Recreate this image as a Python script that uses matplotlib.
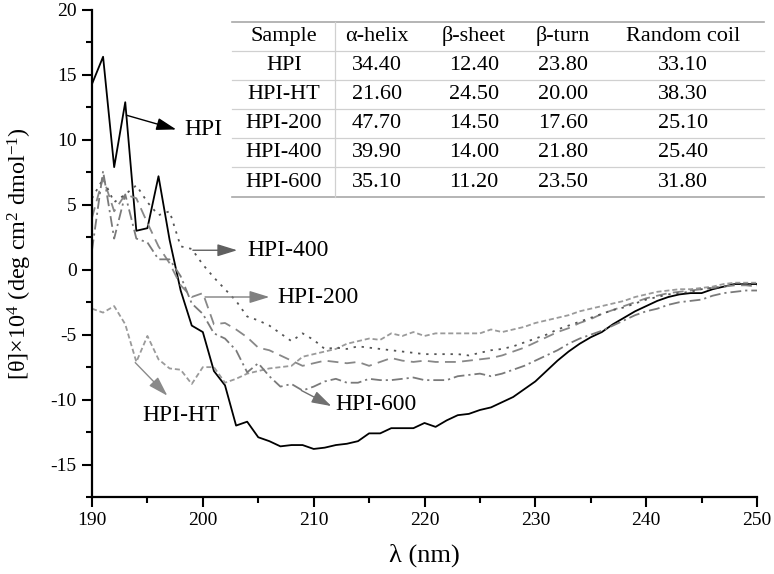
import numpy as np
import matplotlib
matplotlib.use("Agg")
import matplotlib.pyplot as plt
from matplotlib.lines import Line2D

plt.rcParams['font.family'] = ['Liberation Serif', 'DejaVu Serif']
plt.rcParams['mathtext.fontset'] = 'custom'
plt.rcParams['mathtext.rm'] = 'Liberation Serif'
plt.rcParams['mathtext.it'] = 'Liberation Serif:italic'
plt.rcParams['mathtext.default'] = 'regular'
plt.rcParams['axes.unicode_minus'] = False

# wavelength, 1 nm steps
wavelength = np.arange(190, 251)

hpi = [14.3, 16.4, 7.9, 12.9, 3.0, 3.2, 7.2, 2.3, -1.6, -4.3,
       -4.8, -7.8, -8.9, -12.0, -11.7, -12.9, -13.2, -13.6, -13.5, -13.5,
       -13.8, -13.7, -13.5, -13.4, -13.2, -12.6, -12.6, -12.2, -12.2, -12.2,
       -11.8, -12.1, -11.6, -11.2, -11.1, -10.8, -10.6, -10.2, -9.8, -9.2,
       -8.6, -7.8, -7.0, -6.3, -5.7, -5.2, -4.8, -4.2, -3.7, -3.2,
       -2.8, -2.4, -2.1, -1.9, -1.8, -1.8, -1.5, -1.3, -1.1, -1.1,
       -1.1]
hpi_ht = [-3.0, -3.3, -2.8, -4.2, -7.1, -5.1, -6.9, -7.6, -7.7, -8.8,
          -7.5, -7.5, -8.7, -8.4, -8.0, -7.8, -7.6, -7.5, -7.4, -6.7,
          -6.5, -6.3, -6.1, -5.7, -5.5, -5.3, -5.4, -4.9, -5.1, -4.8,
          -5.1, -4.9, -4.9, -4.9, -4.9, -4.9, -4.6, -4.8, -4.6, -4.4,
          -4.1, -3.9, -3.7, -3.5, -3.2, -3.0, -2.8, -2.6, -2.4, -2.1,
          -1.9, -1.7, -1.6, -1.5, -1.5, -1.4, -1.3, -1.1, -1.0, -1.0,
          -1.0]
hpi_200 = [4.0, 7.1, 4.5, 5.8, 5.5, 3.6, 1.8, 0.5, -1.2, -2.1,
           -1.8, -4.2, -4.1, -4.6, -5.2, -6.0, -6.2, -6.6, -7.0, -7.4,
           -7.2, -7.0, -7.1, -7.2, -7.1, -7.4, -7.1, -6.8, -7.0, -7.1,
           -7.0, -7.1, -7.1, -7.1, -7.0, -6.9, -6.8, -6.6, -6.3, -6.0,
           -5.6, -5.2, -4.8, -4.5, -4.1, -3.8, -3.4, -3.1, -2.8, -2.5,
           -2.2, -2.0, -1.8, -1.7, -1.6, -1.5, -1.4, -1.3, -1.2, -1.2,
           -1.3]
hpi_400 = [5.5, 7.0, 5.2, 5.8, 6.5, 5.2, 4.2, 4.5, 1.8, 1.6,
           0.4, -0.6, -1.5, -2.4, -3.6, -3.9, -4.3, -4.9, -5.5, -4.9,
           -5.4, -6.1, -6.0, -6.1, -5.9, -6.0, -6.1, -6.2, -6.3, -6.4,
           -6.5, -6.5, -6.5, -6.5, -6.6, -6.4, -6.2, -6.1, -5.9, -5.6,
           -5.3, -5.0, -4.6, -4.3, -4.0, -3.7, -3.4, -3.1, -2.9, -2.6,
           -2.3, -2.1, -1.9, -1.8, -1.7, -1.5, -1.4, -1.3, -1.1, -1.1,
           -1.2]
hpi_600 = [1.5, 7.6, 2.4, 5.8, 2.4, 2.1, 0.8, 0.8, -0.5, -2.6,
           -3.4, -4.9, -5.3, -6.2, -7.9, -7.2, -8.2, -9.0, -8.8, -9.3,
           -9.0, -8.6, -8.4, -8.7, -8.7, -8.4, -8.5, -8.5, -8.4, -8.3,
           -8.5, -8.5, -8.5, -8.2, -8.1, -8.0, -8.2, -8.0, -7.7, -7.4,
           -7.0, -6.6, -6.2, -5.7, -5.3, -5.0, -4.7, -4.3, -3.9, -3.5,
           -3.2, -3.0, -2.7, -2.5, -2.4, -2.3, -2.0, -1.8, -1.7, -1.6,
           -1.6]

# secondary structure table
table_cols = ["Sample", "α-helix", "β-sheet", "β-turn", "Random coil"]
samples = ["HPI", "HPI-HT", "HPI-200", "HPI-400", "HPI-600"]
alpha_helix = ["34.40", "21.60", "47.70", "39.90", "35.10"]
beta_sheet = ["12.40", "24.50", "14.50", "14.00", "11.20"]
beta_turn = ["23.80", "20.00", "17.60", "21.80", "23.50"]
random_coil = ["33.10", "38.30", "25.10", "25.40", "31.80"]

W, H = 774, 574
fig = plt.figure(figsize=(W / 100, H / 100), dpi=100)
ax = fig.add_axes([92 / W, (H - 497) / H, 665 / W, 487 / H])

ax.plot(wavelength, hpi, color='black', lw=1.3, ls='-')
ax.plot(wavelength, hpi_ht, color='#9a9a9a', lw=1.3, ls=(0, (2.8, 1.6)))
ax.plot(wavelength, hpi_200, color='#888888', lw=1.3, ls=(0, (6, 3.5)))
ax.plot(wavelength, hpi_400, color='#555555', lw=1.3, ls=(0, (1.3, 3.2)))
ax.plot(wavelength, hpi_600, color='#7a7a7a', lw=1.3, ls=(0, (6, 2.2, 1.2, 2.2)))

ax.set_xlim(190, 250)
ax.set_ylim(-17.5, 20)
ax.set_xticks(np.arange(190, 251, 10))
ax.set_xticks(np.arange(195, 250, 10), minor=True)
ax.set_yticks(np.arange(-15, 21, 5))
ax.set_yticks(np.arange(-17.5, 20, 5), minor=True)
for s in ['top', 'right']:
    ax.spines[s].set_visible(False)
for s in ['left', 'bottom']:
    ax.spines[s].set_linewidth(1.6)
ax.tick_params(which='major', direction='out', length=7, width=1.5, labelsize=14, pad=4)
ax.tick_params(which='minor', direction='out', length=4, width=1.5)

ax.set_xlabel("λ (nm)", fontsize=19)
ax.xaxis.set_label_coords(0.5, -0.095)
ax.set_ylabel("[θ]×10$^{4}$ (deg cm$^{2}$ dmol$^{-1}$)", fontsize=17.5)
ax.yaxis.set_label_coords(-0.087, 0.5)

# arrows and labels
arrow = dict(arrowstyle='-|>,head_length=0.55,head_width=0.17', lw=1.0, shrinkA=0, shrinkB=0)
ax.annotate('', xy=(197.6, 10.8), xytext=(193.1, 11.9),
            arrowprops=dict(arrow, color='black', mutation_scale=22))
ax.text(198.3, 10.8, "HPI", fontsize=17, va='center', ha='left')
ax.annotate('', xy=(203.1, 1.5), xytext=(199.1, 1.5),
            arrowprops=dict(arrow, color='#606060', mutation_scale=22))
ax.text(204.0, 1.5, "HPI-400", fontsize=17, va='center', ha='left')
ax.annotate('', xy=(206.0, -2.1), xytext=(200.2, -2.1),
            arrowprops=dict(arrow, color='#808080', mutation_scale=22))
ax.text(206.7, -2.1, "HPI-200", fontsize=17, va='center', ha='left')
ax.annotate('', xy=(211.6, -10.5), xytext=(208.9, -9.3),
            arrowprops=dict(arrow, color='#707070', mutation_scale=22))
ax.text(212.0, -10.4, "HPI-600", fontsize=17, va='center', ha='left')
ax.annotate('', xy=(196.8, -9.7), xytext=(193.9, -7.15),
            arrowprops=dict(arrow, color='#8a8a8a', mutation_scale=22))
ax.text(198.0, -11.2, "HPI-HT", fontsize=17, va='center', ha='center')

# table drawn in figure pixel coords
def fx(px):
    return px / W

def fy(py):
    return 1 - py / H

tab_left, tab_right = 232, 764
row_lines = [22, 51, 80, 109, 138, 167, 197]
col_centers = [284, 377, 474, 563, 683]
for i, yl in enumerate(row_lines):
    edge = i in (0, len(row_lines) - 1)
    fig.add_artist(Line2D([fx(tab_left), fx(tab_right)], [fy(yl), fy(yl)],
                          color='#a8a8a8' if edge else '#d0d0d0', lw=1.2 if edge else 0.9))
fig.add_artist(Line2D([fx(335), fx(335)], [fy(row_lines[0]), fy(row_lines[-1])],
                      color='#d0d0d0', lw=0.9))

rows = [table_cols] + [list(r) for r in zip(samples, alpha_helix, beta_sheet, beta_turn, random_coil)]
for r, row in enumerate(rows):
    yc = (row_lines[r] + row_lines[r + 1]) / 2
    for c, val in enumerate(row):
        fig.text(fx(col_centers[c]), fy(yc), val, fontsize=16, ha='center', va='center')

fig.savefig("out.png", dpi=100, facecolor='white')
